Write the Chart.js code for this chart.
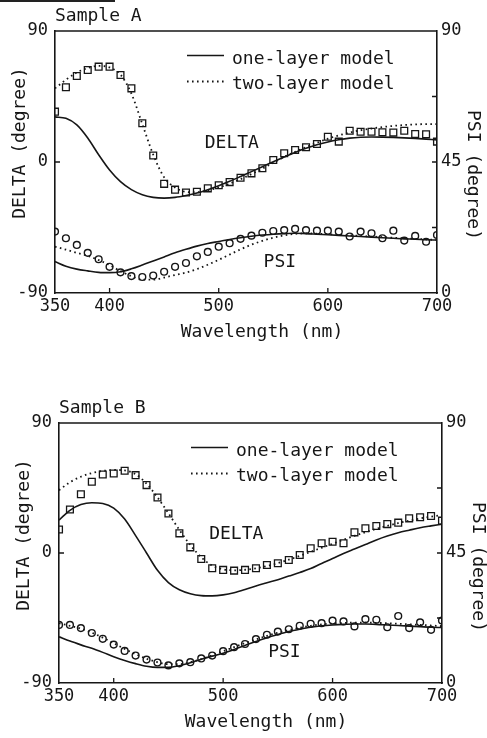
<!DOCTYPE html>
<html>
<head>
<meta charset="utf-8">
<script src="https://cdn.jsdelivr.net/npm/chart.js@4.4.1/dist/chart.umd.min.js"></script>
<style>
body { margin: 0; background: #fff; }
#wrap { position: relative; width: 487px; height: 738px; overflow: hidden; background: #fff; }
canvas { position: absolute; left: 0; }
#scan { position: absolute; left: 0; top: 0; width: 115px; height: 2px; background: #222; }
</style>
</head>
<body>
<div id="wrap">
  <canvas id="chartA" width="487" height="369" style="top:0"></canvas>
  <canvas id="chartB" width="487" height="369" style="top:369px"></canvas>
  <div id="scan"></div>
</div>
<script>
const wavelengths = [350,360,370,380,390,400,410,420,430,440,450,460,470,480,490,500,510,520,
                     530,540,550,560,570,580,590,600,610,620,630,640,650,660,670,680,690,700];

const xTicks = [350, 400, 500, 600, 700];
const xInnerTicks = [400, 500, 600];
const deltaTicks = [-90, 0, 90];
const deltaInnerTicks = [0];
const psiTicks = [0, 45, 90];
const psiInnerTicks = [22.5, 45, 67.5];

// Sample A
const deltaMeasA = [34.6,51.3,59.1,63.2,65.5,65.5,59.8,50.6,26.6,4.5,-15,-19,-20.9,-20.4,-18.1,-16,-13.8,-10.8,
                    -7.8,-4.3,1.4,6,8.2,10.1,12.4,17.4,14,21.5,20.8,20.8,20.4,20.2,21.5,19.2,19,14];
const deltaOneA = [31,30,25.5,16.5,5,-5.5,-13.5,-19,-22.5,-24.3,-24.8,-24.3,-23,-21.3,-19,-16.3,-13.3,-10,
                   -6.6,-3.2,0.2,3.5,6.6,9.4,11.8,13.8,15.3,16.4,17,17.2,17.1,16.9,16.6,16.2,15.7,15.2];
const deltaTwoA = [50.6,56.5,61.5,64.5,66,65,60,47,26,5,-10.5,-17.5,-20.5,-20.8,-19.5,-17.5,-14.8,-11.8,
                   -8.3,-4.5,-0.5,3.5,7,10.2,13.2,16,18.3,20.2,21.8,23,24,24.8,25.4,25.8,26,26];
const psiMeasA = [21.1,18.8,16.5,13.8,11.6,9,7.1,5.8,5.5,6,7.3,9,10.3,12.6,14.1,15.9,17.1,18.6,
                  19.7,20.7,21.3,21.6,22,21.6,21.4,21.4,21.1,19.4,21.1,20.5,18.8,21.4,18,19.6,17.6,19.9];
const psiOneA = [10.8,9.2,8.2,7.6,7.1,7,7.3,8.3,9.6,11,12.4,13.8,15,16.1,17,17.7,18.4,19,
                 19.5,19.9,20.2,20.4,20.5,20.4,20.2,20,19.8,19.6,19.4,19.2,19,18.8,18.6,18.5,18.3,18.2];
const psiTwoA = [15.9,14.9,13.8,12.8,11.3,9.6,7.5,5.8,4.6,4.6,5.3,6.2,7,8.2,9.7,11.4,13.2,15,
                 16.6,17.9,19,19.8,20.3,20.5,20.4,20.2,20,19.8,19.6,19.4,19.2,19,18.8,18.6,18.4,18.2];

// Sample B
const deltaMeasB = [16.3,30.1,40.7,49.3,54.3,55,56.9,53.9,47,38.4,27.4,13.6,3.9,-4.2,-10.6,-11.7,-12.2,-11.7,
                    -10.6,-8.3,-7.1,-4.8,-1.4,3.3,6.7,7.8,6.7,14.3,17.1,18.7,20,21,24,24.7,25.6,22.4];
const deltaOneB = [22.8,29.5,33.5,34.8,34.3,31,23.5,12,0,-12,-20.5,-25.5,-28.2,-29.5,-29.7,-29,-27.5,-25.3,
                   -22.8,-20.6,-18.5,-16,-13.5,-10.8,-7.2,-3.8,-0.3,2.8,5.9,9,11.7,14,15.8,17.5,18.8,20];
const deltaTwoB = [43.5,49,52.8,55.3,56.8,57.5,57.2,54.5,48,38.5,27.5,16,5.5,-3,-8.7,-11.3,-12,-11.6,
                   -10.6,-9,-7,-4.6,-2,0.8,3.6,6.4,9.2,11.9,14.4,16.7,18.8,20.7,22.4,23.9,25.2,26.3];
const psiMeasB = [20.1,20.1,19,17.3,15.3,13.3,11.1,9.5,8.1,7.1,6.1,6.8,7.2,8.5,9.5,11,12.4,13.5,
                  15.2,16.7,17.8,18.6,19.8,20.5,20.7,21.6,21.3,19.6,22.1,21.9,19.3,23.2,19,21,18.4,21.6];
const psiOneB = [16,14.5,13.2,12,10.6,9.1,7.8,6.7,5.8,5.4,5.4,6,7,8.2,9.3,10.3,11.6,13,
                 14.4,15.7,16.8,17.8,18.6,19.3,19.8,20.1,20.3,20.4,20.4,20.3,20.1,19.9,19.7,19.5,19.3,19.2];
const psiTwoB = [20.7,19.8,18.8,17.4,15.7,13.8,11.8,10,8.4,7.2,6.5,6.5,7.2,8.3,9.6,11,12.4,13.8,
                 15.1,16.3,17.4,18.3,19.1,19.8,20.3,20.6,20.8,20.9,20.9,20.8,20.7,20.5,20.3,20.1,19.9,19.7];

const ink = '#161616';
const mono = '"DejaVu Sans Mono", "Liberation Mono", monospace';
const dots = [1.6, 3.4];

function pts(arr) {
  return arr.map((v, i) => ({ x: wavelengths[i], y: v }));
}

function valueTicks(list) {
  return scale => { scale.ticks = list.map(v => ({ value: v })); };
}

const decor = {
  id: 'decor',
  afterDraw(chart, args, opts) {
    const { ctx, chartArea: a, scales } = chart;
    const x = scales.x, y = scales.y, y1 = scales.y1;
    ctx.save();
    ctx.strokeStyle = ink;
    ctx.fillStyle = ink;

    // top edge of the frame
    ctx.lineWidth = 1.6;
    ctx.beginPath();
    ctx.moveTo(a.left, a.top);
    ctx.lineTo(a.right, a.top);
    ctx.stroke();

    // inward tick marks
    ctx.lineWidth = 1.3;
    ctx.beginPath();
    xInnerTicks.forEach(v => {
      const px = x.getPixelForValue(v);
      ctx.moveTo(px, a.bottom);
      ctx.lineTo(px, a.bottom - 5);
    });
    deltaInnerTicks.forEach(v => {
      const py = y.getPixelForValue(v);
      ctx.moveTo(a.left, py);
      ctx.lineTo(a.left + 5, py);
    });
    psiInnerTicks.forEach(v => {
      const py = y1.getPixelForValue(v);
      ctx.moveTo(a.right, py);
      ctx.lineTo(a.right - 5, py);
    });
    ctx.stroke();

    ctx.font = '18px ' + mono;
    ctx.textBaseline = 'middle';

    // sample name
    ctx.textAlign = 'left';
    ctx.fillText(opts.sample, a.left, a.top - 15);

    // legend
    const lx0 = a.left + 132, lx1 = a.left + 169, tx = a.left + 177;
    ctx.lineWidth = 1.6;
    ctx.beginPath();
    ctx.moveTo(lx0, a.top + 24.5);
    ctx.lineTo(lx1, a.top + 24.5);
    ctx.stroke();
    ctx.setLineDash(dots);
    ctx.lineWidth = 1.8;
    ctx.beginPath();
    ctx.moveTo(lx0, a.top + 50.5);
    ctx.lineTo(lx1, a.top + 50.5);
    ctx.stroke();
    ctx.setLineDash([]);
    ctx.fillText('one-layer model', tx, a.top + 28);
    ctx.fillText('two-layer model', tx, a.top + 53.5);

    // curve labels
    ctx.textAlign = 'center';
    ctx.fillText('DELTA', x.getPixelForValue(512), y.getPixelForValue(13));
    ctx.fillText('PSI', x.getPixelForValue(556), y1.getPixelForValue(10.5));

    // axis titles
    ctx.fillText('Wavelength (nm)', a.left + 207, a.bottom + 39);
    ctx.save();
    ctx.translate(a.left - 35, a.top + 112);
    ctx.rotate(-Math.PI / 2);
    ctx.fillText('DELTA (degree)', 0, 0);
    ctx.restore();
    ctx.save();
    ctx.translate(a.right + 36, a.top + 144);
    ctx.rotate(Math.PI / 2);
    ctx.fillText('PSI (degree)', 0, 0);
    ctx.restore();

    ctx.restore();
  }
};

function makePanel(id, sample, series, g) {
  const tickFont = { family: mono, size: 17 };
  const solid = { type: 'line', borderColor: ink, borderWidth: 1.6, pointRadius: 0,
                  fill: false, cubicInterpolationMode: 'monotone' };
  const dotted = Object.assign({}, solid, { borderWidth: 1.8, borderDash: dots });
  const squares = { type: 'line', showLine: false, pointStyle: 'rect', pointRadius: 4.8,
                    pointBorderWidth: 1.3, pointBorderColor: ink, pointBackgroundColor: 'rgba(0,0,0,0)' };
  const circles = { type: 'line', showLine: false, pointStyle: 'circle', pointRadius: 3.4,
                    pointBorderWidth: 1.4, pointBorderColor: ink, pointBackgroundColor: 'rgba(0,0,0,0)' };

  return new Chart(document.getElementById(id), {
    type: 'line',
    data: {
      datasets: [
        Object.assign({ label: 'DELTA measured', data: pts(series.deltaMeas), yAxisID: 'y' }, squares),
        Object.assign({ label: 'PSI measured', data: pts(series.psiMeas), yAxisID: 'y1' }, circles),
        Object.assign({ label: 'DELTA one-layer model', data: pts(series.deltaOne), yAxisID: 'y' }, solid),
        Object.assign({ label: 'DELTA two-layer model', data: pts(series.deltaTwo), yAxisID: 'y' }, dotted),
        Object.assign({ label: 'PSI one-layer model', data: pts(series.psiOne), yAxisID: 'y1' }, solid),
        Object.assign({ label: 'PSI two-layer model', data: pts(series.psiTwo), yAxisID: 'y1' }, dotted)
      ]
    },
    options: {
      responsive: false,
      animation: false,
      devicePixelRatio: 1,
      layout: { padding: { top: g.top, left: 0, right: 0, bottom: 0 } },
      plugins: {
        legend: { display: false },
        tooltip: { enabled: false },
        decor: { sample: sample }
      },
      scales: {
        x: {
          type: 'linear', min: 350, max: 700,
          afterBuildTicks: valueTicks(xTicks),
          afterFit: s => { s.height = g.xh; },
          grid: { display: false, drawTicks: false },
          border: { color: ink, width: 1.6 },
          ticks: { font: tickFont, color: ink, padding: 3, maxRotation: 0 }
        },
        y: {
          position: 'left', min: -90, max: 90,
          afterBuildTicks: valueTicks(deltaTicks),
          afterFit: s => { s.width = g.left; },
          grid: { display: false, drawTicks: false },
          border: { color: ink, width: 1.6 },
          ticks: { font: tickFont, color: ink, padding: 7 }
        },
        y1: {
          position: 'right', min: 0, max: 90,
          afterBuildTicks: valueTicks(psiTicks),
          afterFit: s => { s.width = g.right; },
          grid: { display: false, drawTicks: false },
          border: { color: ink, width: 1.6 },
          ticks: { font: tickFont, color: ink, padding: 4 }
        }
      }
    },
    plugins: [decor]
  });
}

makePanel('chartA', 'Sample A',
  { deltaMeas: deltaMeasA, deltaOne: deltaOneA, deltaTwo: deltaTwoA,
    psiMeas: psiMeasA, psiOne: psiOneA, psiTwo: psiTwoA },
  { top: 31, left: 55, right: 50, xh: 76 });

makePanel('chartB', 'Sample B',
  { deltaMeas: deltaMeasB, deltaOne: deltaOneB, deltaTwo: deltaTwoB,
    psiMeas: psiMeasB, psiOne: psiOneB, psiTwo: psiTwoB },
  { top: 54, left: 59, right: 45, xh: 55 });
</script>
</body>
</html>
